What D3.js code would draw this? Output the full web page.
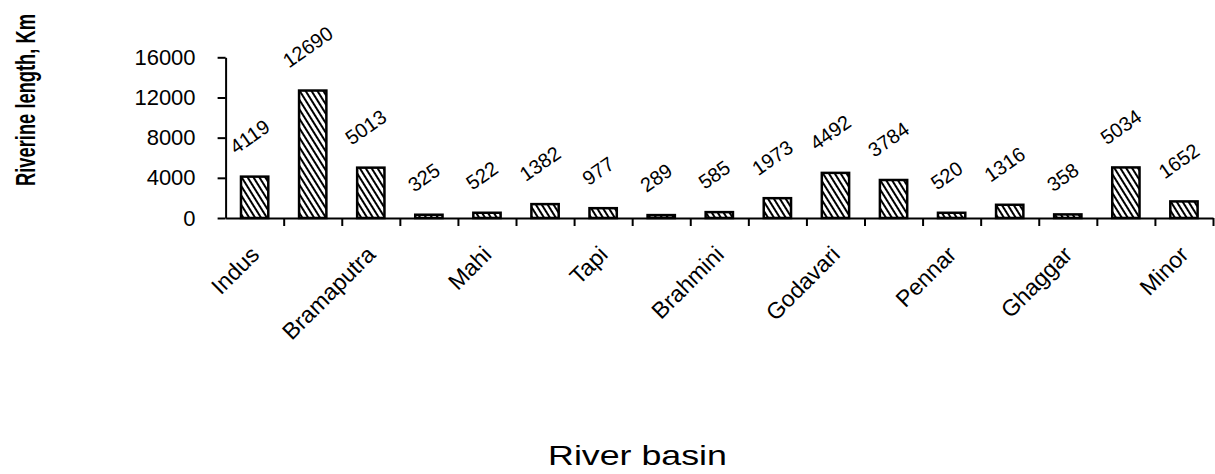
<!DOCTYPE html>
<html>
<head>
<meta charset="utf-8">
<script src="https://cdn.jsdelivr.net/npm/d3@7"></script>
<style>
  html, body { margin: 0; padding: 0; background: #fff; }
  svg { display: block; }
  text { font-family: "Liberation Sans", Arial, sans-serif; fill: #000; }
</style>
</head>
<body>
<svg id="chart" width="1215" height="474"></svg>
<script>
// ---- data ----
const categories = ["Indus","Ganga","Bramaputra","Sabarmati","Mahi","Narmada","Tapi","Subarnarekha","Brahmini","Mahanadi","Godavari","Krishna","Pennar","Cauvery","Ghaggar","Others","Minor"];
const values = [4119,12690,5013,325,522,1382,977,289,585,1973,4492,3784,520,1316,358,5034,1652];
const shownLabels = ["Indus","Bramaputra","Mahi","Tapi","Brahmini","Godavari","Pennar","Ghaggar","Minor"];
const yTicks = [0,4000,8000,12000,16000];
const yTitle = "Riverine length, Km";
const xTitle = "River basin";

(function(){
const svg = d3.select("#chart");
const pLeft = 225.6, pRight = 1213, pTop = 57.3, pBottom = 218;

// hatch pattern
const defs = svg.append("defs");
const pat = defs.append("pattern").attr("id","hatch").attr("patternUnits","userSpaceOnUse")
  .attr("width",5).attr("height",5).attr("patternTransform","rotate(-32)");
pat.append("rect").attr("width",5).attr("height",5).attr("fill","#fff");
pat.append("line").attr("x1",1).attr("y1",0).attr("x2",1).attr("y2",5)
  .attr("stroke","#000").attr("stroke-width",2);

const x = d3.scaleBand().domain(categories).range([pLeft, pRight]).paddingInner(0.53).paddingOuter(0.265);
const y = d3.scaleLinear().domain([0,16000]).range([pBottom, pTop]);
const xb = d3.scaleLinear().domain([0, categories.length]).range([pLeft, pRight]);

// bars
svg.append("g").selectAll("rect").data(values).join("rect")
  .attr("x",(d,i)=>x(categories[i]))
  .attr("y",d=>y(d))
  .attr("width",x.bandwidth())
  .attr("height",d=>y(0)-y(d))
  .attr("fill","url(#hatch)")
  .attr("stroke","#000").attr("stroke-width",2.5);

// y axis
const ya = svg.append("g").attr("transform",`translate(${pLeft},0)`)
  .call(d3.axisLeft(y).tickValues(yTicks).tickSize(8).tickSizeOuter(0).tickPadding(22).tickFormat(d3.format("d")));
ya.selectAll("text").attr("font-size",22).attr("font-family","Liberation Sans, Arial, sans-serif");
ya.selectAll("line,path").attr("stroke","#000").attr("stroke-width",2);

// x axis (ticks at band boundaries)
const xa = svg.append("g").attr("transform",`translate(0,${pBottom})`)
  .call(d3.axisBottom(xb).tickValues(d3.range(1, categories.length+1)).tickSize(8).tickSizeOuter(0).tickFormat(""));
xa.selectAll("line,path").attr("stroke","#000").attr("stroke-width",2);

// category labels
svg.append("g").selectAll("text").data(categories.filter(c=>shownLabels.includes(c))).join("text")
  .attr("transform",c=>`translate(${x(c)+x.bandwidth()/2+6},${pBottom+38}) rotate(-45)`)
  .attr("text-anchor","end")
  .attr("font-size",23)
  .text(c=>c);

// value labels
const ang = 35*Math.PI/180;
const vl = svg.append("g").selectAll("text").data(values).join("text")
  .attr("text-anchor","middle").attr("dy","0.35em").attr("font-size",20)
  .text(d=>d);
vl.each(function(d,i){
  const L = this.getComputedTextLength();
  const half = (L*Math.sin(ang) + 14*Math.cos(ang))/2;
  const cx = x(categories[i]) + x.bandwidth()/2 - 5;
  const cy = y(d) - 22 - half;
  d3.select(this).attr("transform",`translate(${cx},${cy}) rotate(-35)`);
});

// titles (condensed via scale to match the reference widths)
const yt = svg.append("text")
  .attr("text-anchor","middle").attr("font-size",28).attr("font-weight","bold")
  .text(yTitle);
const ytL = yt.node().getComputedTextLength();
yt.attr("transform",`translate(35,100) rotate(-90) scale(${172/ytL},1)`);

const xt = svg.append("text")
  .attr("text-anchor","middle").attr("font-size",28)
  .text(xTitle);
const xtL = xt.node().getComputedTextLength();
xt.attr("transform",`translate(637.5,465) scale(${179/xtL},1)`);
})();
</script>
</body>
</html>
